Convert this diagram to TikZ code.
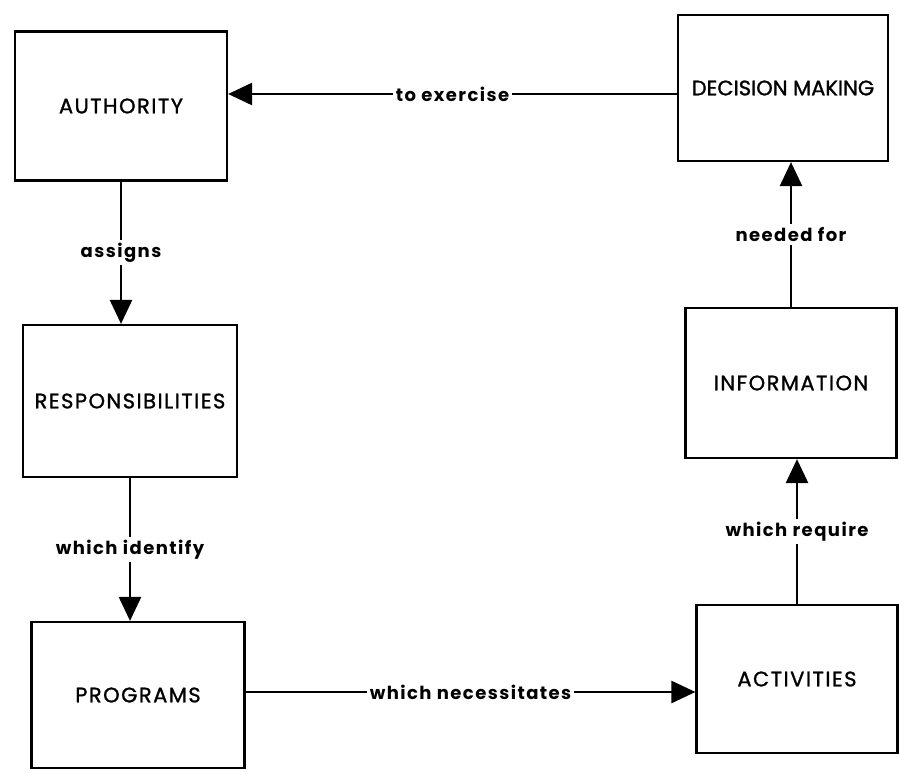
\documentclass[tikz,border=0pt]{standalone}
\usepackage{fontspec}
\setmainfont{Poppins}
\newfontfamily\boxfont[LetterSpace=7,FakeBold=1.2]{Poppins}
\newfontfamily\tightboxfont[LetterSpace=0,FakeBold=1.2]{Poppins}
\usetikzlibrary{arrows.meta}
\tikzset{
  box/.style={draw, line width=2.2pt, rectangle, inner sep=0pt, font=\boxfont\fontsize{21}{24}\selectfont},
  tight/.style={font=\tightboxfont\fontsize{21}{24}\selectfont},
  arr/.style={line width=2.6pt, -{Triangle[length=24pt,width=22pt]}},
  lab/.style={fill=white, inner sep=3pt, font=\fontsize{18}{21}\selectfont\bfseries\addfontfeatures{LetterSpace=8}}
}
\begin{document}
\begin{tikzpicture}[x=1pt,y=-1pt]
\useasboundingbox[fill=white] (0,0) rectangle (899,771);
\node[box, minimum width=212pt, minimum height=149pt] (auth) at (121,106) {AUTHORITY};
\node[box, tight, minimum width=210pt, minimum height=146pt] (dec) at (783,88) {DECISION MAKING};
\node[box, minimum width=214pt, minimum height=152pt] (resp) at (130,401) {RESPONSIBILITIES};
\node[box, minimum width=213pt, minimum height=146pt] (prog) at (138,695) {PROGRAMS};
\node[box, minimum width=211pt, minimum height=150pt] (info) at (791,383) {INFORMATION};
\node[box, minimum width=201pt, minimum height=148pt] (act) at (797,679) {ACTIVITIES};
\coordinate (d1) at ([yshift=-6pt]dec.west);
\draw[arr] (d1) -- node[lab] {to exercise} (d1 -| auth.east);
\draw[arr] (auth.south) -- node[lab] {assigns} (auth.south |- resp.north);
\draw[arr] (resp.south) -- node[lab] {which identify} (resp.south |- prog.north);
\coordinate (p1) at ([yshift=3pt]prog.east);
\draw[arr] (p1) -- node[lab] {which necessitates} (p1 -| act.west);
\draw[arr] (act.north) -- node[lab] {which require} (act.north |- info.south);
\draw[arr] (info.north) -- node[lab] {needed for} (info.north |- dec.south);
\end{tikzpicture}
\end{document}
